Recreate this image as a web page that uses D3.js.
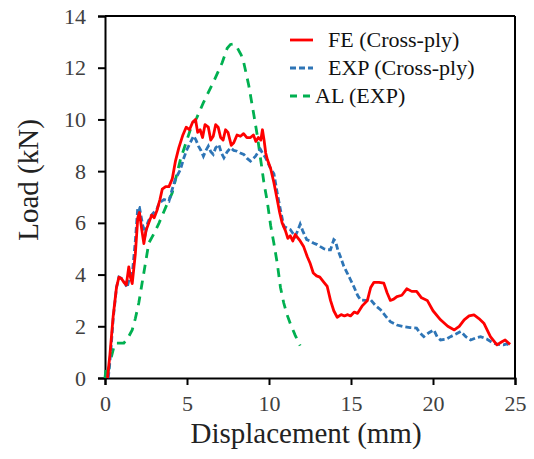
<!DOCTYPE html>
<html><head><meta charset="utf-8">
<script src="https://cdn.jsdelivr.net/npm/d3@7/dist/d3.min.js"></script>
<style>body{margin:0;background:#fff}svg{display:block}svg text{font-family:"Liberation Serif","DejaVu Serif",serif !important}</style>
</head><body>
<script>
const xTicks = [0, 5, 10, 15, 20, 25];
const yTicks = [0, 2, 4, 6, 8, 10, 12, 14];
const seriesNames = ["FE (Cross-ply)", "EXP (Cross-ply)", "AL (EXP)"];

const feX = [0.15,0.3,0.5,0.7,0.85,1.0,1.15,1.3,1.45,1.55,1.66,1.85,2.0,2.1,2.25,2.37,2.5,2.67,2.85,3.0,3.18,3.35,3.49,3.7,3.9,4.1,4.3,4.5,4.75,4.95,5.15,5.35,5.52,5.65,5.8,5.95,6.1,6.3,6.45,6.6,6.75,6.9,7.05,7.2,7.35,7.5,7.7,7.85,8.05,8.26,8.45,8.65,8.87,9.05,9.2,9.35,9.5,9.6,9.7,9.8,9.9,10.1,10.3,10.5,10.65,10.8,11.0,11.15,11.3,11.45,11.6,11.72,11.9,12.1,12.33,12.5,12.7,12.9,13.1,13.35,13.55,13.75,13.95,14.16,14.4,14.6,14.8,14.97,15.2,15.4,15.7,16.0,16.2,16.4,16.7,17.0,17.2,17.4,17.6,17.8,18.1,18.4,18.7,19.0,19.3,19.65,20.0,20.46,20.9,21.3,21.6,21.9,22.2,22.5,22.8,23.1,23.5,23.9,24.2,24.4,24.7];
const feY = [0,0.9,2.4,3.5,3.9,3.85,3.7,3.6,4.3,3.9,3.65,4.8,6.2,6.4,5.7,5.2,5.7,6.0,6.3,6.2,6.5,6.9,7.3,7.4,7.4,7.7,8.4,8.9,9.4,9.7,9.6,9.9,10.0,9.5,9.6,9.3,9.8,9.7,9.2,9.35,9.8,9.7,9.3,9.2,9.6,9.5,9.0,9.1,9.4,9.35,9.45,9.3,9.3,9.4,9.15,9.3,9.2,9.6,9.2,8.7,8.45,8.1,7.55,6.9,6.4,6.0,5.7,5.4,5.5,5.3,5.55,5.45,5.3,5.1,4.7,4.45,4.06,3.95,3.9,3.7,3.54,3.0,2.6,2.35,2.45,2.4,2.45,2.4,2.55,2.5,2.8,3.0,3.5,3.7,3.7,3.67,3.3,3.0,3.05,3.15,3.2,3.45,3.35,3.35,3.1,3.0,2.6,2.25,2.0,1.86,2.0,2.25,2.4,2.44,2.3,2.12,1.6,1.28,1.4,1.47,1.3];

const expX = [0.2,0.35,0.5,0.7,0.85,1.0,1.15,1.35,1.5,1.66,1.85,2.0,2.1,2.3,2.47,2.6,2.77,2.98,3.15,3.3,3.6,3.9,4.1,4.3,4.6,4.8,5.0,5.2,5.4,5.55,5.7,5.85,6.0,6.15,6.3,6.45,6.6,6.75,6.94,7.1,7.25,7.45,7.65,7.85,8.06,8.25,8.46,8.65,8.87,9.05,9.18,9.35,9.48,9.6,9.79,9.95,10.1,10.3,10.5,10.7,10.9,11.1,11.3,11.45,11.6,11.75,11.9,12.05,12.3,12.5,12.7,12.94,13.1,13.35,13.55,13.75,13.95,14.05,14.2,14.35,14.56,14.77,14.97,15.17,15.4,15.58,15.9,16.2,16.5,16.8,17.1,17.4,17.8,18.2,18.6,19.0,19.2,19.44,19.75,20.05,20.25,20.46,20.8,21.07,21.4,21.7,22.0,22.3,22.6,22.9,23.3,23.7,24.0,24.3,24.5,24.7];
const expY = [0,1.0,2.3,3.5,3.9,3.85,3.75,3.5,3.9,4.0,5.3,6.6,6.6,5.9,5.6,6.0,6.25,6.4,6.5,6.77,6.9,6.84,7.3,7.7,8.06,8.5,8.84,9.1,9.36,9.2,8.97,8.8,8.58,8.8,8.97,8.75,8.65,8.9,9.03,8.7,8.52,8.75,8.9,8.8,8.77,8.7,8.65,8.5,8.39,8.5,8.58,8.75,8.84,8.7,8.52,8.3,8.1,7.9,7.16,6.5,5.87,5.8,5.74,5.6,5.48,5.7,5.95,5.7,5.35,5.3,5.22,5.16,5.09,5.0,4.96,4.96,5.35,5.3,4.95,4.7,4.32,4.06,3.8,3.54,3.2,3.02,3.0,3.02,2.8,2.64,2.4,2.18,2.05,1.99,1.95,1.93,1.75,1.6,1.75,1.86,1.6,1.47,1.5,1.6,1.7,1.8,1.6,1.47,1.55,1.6,1.5,1.34,1.3,1.28,1.32,1.25];

const alX = [0.0,0.05,0.15,0.34,0.5,0.64,0.9,1.15,1.4,1.66,1.85,2.06,2.27,2.47,2.67,3.0,3.3,3.7,4.1,4.6,5.2,5.6,6.0,6.6,7.15,7.45,7.65,7.85,8.06,8.3,8.46,8.6,8.77,9.07,9.28,9.48,9.68,9.9,10.1,10.3,10.5,10.7,10.9,11.1,11.3,11.6,11.9];
const alY = [0.0,0.3,0.1,0.7,1.1,1.35,1.35,1.35,1.55,1.86,2.3,2.9,3.7,4.45,5.22,5.6,6.0,6.6,7.16,8.45,9.6,10.07,10.65,11.43,12.2,12.75,12.9,12.92,12.78,12.5,12.2,11.8,11.3,10.2,9.4,8.5,7.6,6.8,5.9,5.2,4.45,3.5,2.9,2.45,2.1,1.65,1.25];

const W = 534, H = 459;
const svg = d3.select("body").append("svg").attr("width", W).attr("height", H);
const x = d3.scaleLinear().domain([0, 25]).range([105, 515]);
const y = d3.scaleLinear().domain([0, 14]).range([378, 16]);

// frame
svg.append("line").attr("x1", x(0)).attr("x2", x(25)).attr("y1", y(14)).attr("y2", y(14)).attr("stroke", "#000").attr("stroke-width", 2);
svg.append("line").attr("x1", x(25)).attr("x2", x(25)).attr("y1", y(14)).attr("y2", y(0)).attr("stroke", "#000").attr("stroke-width", 2);

const xAxis = svg.append("g").attr("transform", `translate(0,${y(0)})`)
  .call(d3.axisBottom(x).tickValues(xTicks).tickSize(7).tickPadding(10));
const yAxis = svg.append("g").attr("transform", `translate(${x(0)},0)`)
  .call(d3.axisLeft(y).tickValues(yTicks).tickSize(7).tickPadding(12));
[xAxis, yAxis].forEach(a => {
  a.attr("font-family", null);
  a.select(".domain").attr("stroke", "#000").attr("stroke-width", 2);
  a.selectAll(".tick line").attr("stroke", "#000").attr("stroke-width", 2);
  a.selectAll(".tick text").attr("font-size", 22).attr("fill", "#404040");
});

const line = d3.line().x(d => x(d[0])).y(d => y(d[1]));
const zip = (a, b) => a.map((v, i) => [v, b[i]]);

svg.append("path").datum(zip(alX, alY)).attr("d", line).attr("fill", "none")
  .attr("stroke", "#00b050").attr("stroke-width", 2.8).attr("stroke-dasharray", "9,7");
svg.append("path").datum(zip(expX, expY)).attr("d", line).attr("fill", "none")
  .attr("stroke", "#2e75b6").attr("stroke-width", 2.8).attr("stroke-dasharray", "6,3");
svg.append("path").datum(zip(feX, feY)).attr("d", line).attr("fill", "none")
  .attr("stroke", "#ff0000").attr("stroke-width", 2.8).attr("stroke-linejoin", "round");

// axis titles
svg.append("text").attr("x", 306).attr("y", 443).attr("text-anchor", "middle")
  .attr("font-size", 29).attr("fill", "#222").text("Displacement (mm)");
svg.append("text").attr("transform", "translate(38,180) rotate(-90)").attr("text-anchor", "middle")
  .attr("font-size", 29).attr("fill", "#222").text("Load (kN)");

// legend
const leg = [
  {name: seriesNames[0], color: "#ff0000", dash: null, ly: 40, tx: 328},
  {name: seriesNames[1], color: "#2e75b6", dash: "6,3", ly: 68, tx: 328},
  {name: seriesNames[2], color: "#00b050", dash: "7,6", ly: 96, tx: 315}
];
leg.forEach(l => {
  svg.append("line").attr("x1", 290).attr("x2", 313).attr("y1", l.ly).attr("y2", l.ly)
    .attr("stroke", l.color).attr("stroke-width", 2.8).attr("stroke-dasharray", l.dash);
  svg.append("text").attr("x", l.tx).attr("y", l.ly + 7)
    .attr("font-size", 22).attr("fill", "#111").text(l.name);
});
</script>
</body></html>
